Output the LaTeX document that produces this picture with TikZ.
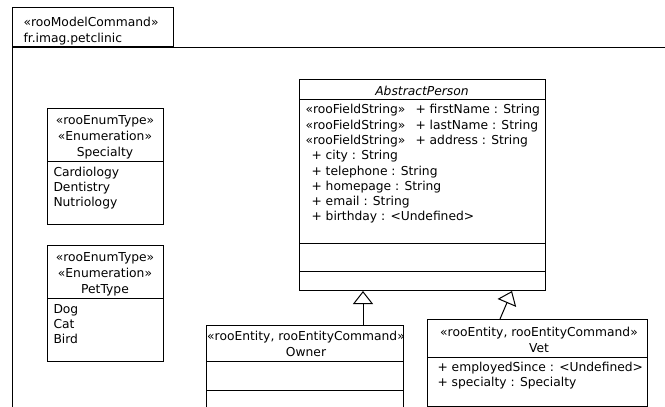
\documentclass[tikz,border=0pt]{standalone}
\usepackage{fontspec}
\setmainfont{DejaVu Sans}
\usetikzlibrary{arrows.meta}

\tikzset{
    umlbox/.style={draw, inner sep=0pt, anchor=north west},
    txt/.style={inner sep=0pt},
    inherit/.style={-{Triangle[open, width=20pt, length=13pt]}}
}

\begin{document}
\begin{tikzpicture}[x=1pt, y=-1pt, line width=1pt, font=\fontsize{12.3}{16}\selectfont]
                \useasboundingbox (0, 0) rectangle (665, 407);
                % package frame
                \node(pkg) at(12, 7) [umlbox, minimum width=161pt, minimum height=39pt] {};
                \node(pkg_txt) at(23, 17) [txt, anchor=north west, align=left] {«rooModelCommand»\\fr.imag.petclinic};
                \draw (pkg.south west |- 0, 407) -- (pkg.south west) -- (pkg.south west -| 665, 0);
                % enumerations
                \node(specialty) at(47, 108) [umlbox, minimum width=116pt, minimum height=116pt] {};
                \draw ([yshift=-53pt]specialty.north west) -- ([yshift=-53pt]specialty.north east);
                \node(specialty_head) at(105, 115) [txt, anchor=north, align=center] {«rooEnumType»\\«Enumeration»\\Specialty};
                \node(specialty_vals) at(53, 167) [txt, anchor=north west, align=left, font=\fontsize{12.3}{15}\selectfont] {Cardiology\\Dentistry\\Nutriology};
                \node(pettype) at(47, 245) [umlbox, minimum width=116pt, minimum height=116pt] {};
                \draw ([yshift=-53pt]pettype.north west) -- ([yshift=-53pt]pettype.north east);
                \node(pettype_head) at(105, 252) [txt, anchor=north, align=center] {«rooEnumType»\\«Enumeration»\\PetType};
                \node(pettype_vals) at(53, 304) [txt, anchor=north west, align=left, font=\fontsize{12.3}{15}\selectfont] {Dog\\Cat\\Bird};
                % abstract class
                \node(person) at(299, 79) [umlbox, minimum width=246pt, minimum height=211pt] {};
                \draw ([yshift=-20pt]person.north west) -- ([yshift=-20pt]person.north east);
                \draw ([yshift=-164pt]person.north west) -- ([yshift=-164pt]person.north east);
                \node(person_name) at(422, 86) [txt, anchor=north] {\itshape AbstractPerson};
                \draw ([yshift=-192pt]person.north west) -- ([yshift=-192pt]person.north east);
                \node(person_stereo) at(305, 104) [txt, anchor=north west, align=left, font=\fontsize{12.3}{15.2}\selectfont] {«rooFieldString»\\«rooFieldString»\\«rooFieldString»};
                \node(person_strs) at(415, 104) [txt, anchor=north west, align=left, font=\fontsize{12.3}{15.2}\selectfont] {+ firstName : String\\+ lastName : String\\+ address : String};
                \node(person_attrs) at(311, 150) [txt, anchor=north west, align=left, font=\fontsize{12.3}{15.2}\selectfont] {+ city : String\\+ telephone : String\\+ homepage : String\\+ email : String\\+ birthday : <Undefined>};
                % entities
                \node(owner) at(206, 325) [umlbox, minimum width=197pt, minimum height=95pt] {};
                \draw ([yshift=-36pt]owner.north west) -- ([yshift=-36pt]owner.north east);
                \draw ([yshift=-65pt]owner.north west) -- ([yshift=-65pt]owner.north east);
                \node(owner_head) at(306, 331) [txt, anchor=north, align=center] {«rooEntity, rooEntityCommand»\\Owner};
                \node(vet) at(427, 319) [umlbox, minimum width=220pt, minimum height=87pt] {};
                \draw ([yshift=-38pt]vet.north west) -- ([yshift=-38pt]vet.north east);
                \node(vet_head) at(539, 327) [txt, anchor=north, align=center] {«rooEntity, rooEntityCommand»\\Vet};
                \node(vet_attrs) at(437, 362) [txt, anchor=north west, align=left, font=\fontsize{12.3}{15}\selectfont] {+ employedSince : <Undefined>\\+ specialty : Specialty};
                % generalizations
                \draw[inherit] ([xshift=157pt]owner.north west) -- ([xshift=157pt]owner.north west |- person.south);
                \draw[inherit] ([xshift=73pt]vet.north west) -- ([xshift=213pt]person.south west);
            \end{tikzpicture}
\end{document}
